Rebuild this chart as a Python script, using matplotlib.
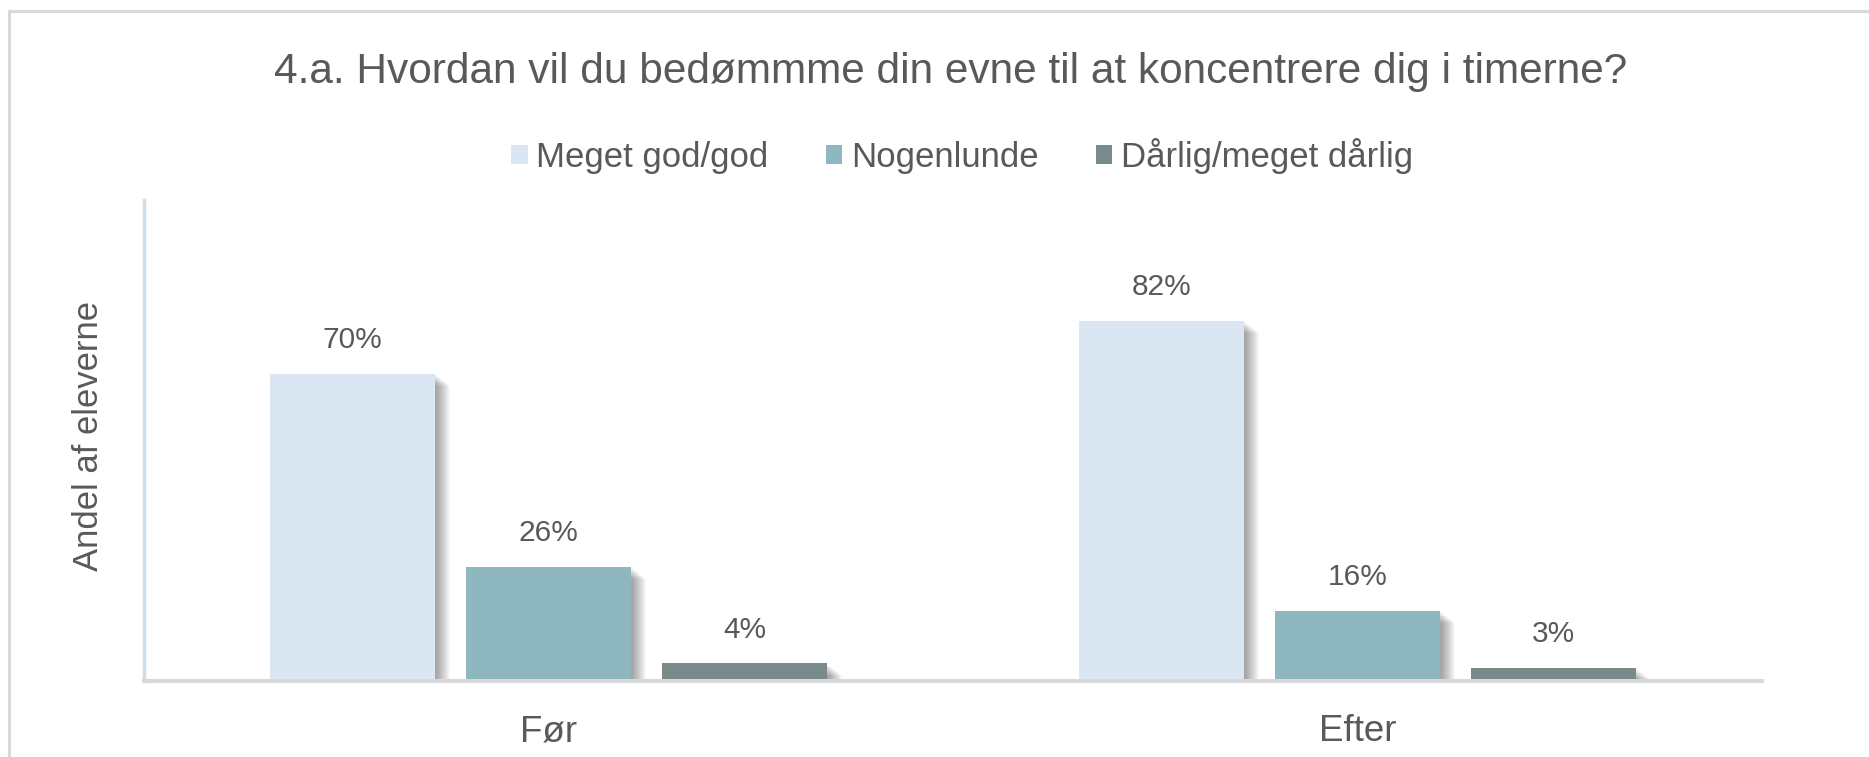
import matplotlib
matplotlib.use("Agg")
import matplotlib.pyplot as plt
import matplotlib.patheffects as pe
from matplotlib.patches import Patch
from matplotlib.lines import Line2D
import numpy as np

categories = ["Før", "Efter"]
series_names = ["Meget god/god", "Nogenlunde", "Dårlig/meget dårlig"]
meget_god = [0.70, 0.82]
nogenlunde = [0.26, 0.16]
daarlig = [0.04, 0.03]
series_values = [meget_god, nogenlunde, daarlig]
colors = ["#DAE7F3", "#8EB7C0", "#798A8B"]

title = "4.a. Hvordan vil du bedømmme din evne til at koncentrere dig i timerne?"
ylabel = "Andel af eleverne"
text_color = "#595959"

plt.rcParams['font.family'] = ['Liberation Sans', 'DejaVu Sans']

W, H = 1869, 757
fig = plt.figure(figsize=(W / 100, H / 100), dpi=100)
fig.patch.set_facecolor("white")

ax = fig.add_axes([144 / W, 1 - 681 / H, (1762 - 144) / W, (681 - 200) / H])

x = np.arange(len(categories))
width = 0.204
offsets = [-0.2425, 0.0, 0.2425]

px = 72 / 100.0
shadow_effects = []
for k in range(2, 16):
    shadow_effects.append(pe.SimplePatchShadow(offset=(k * px, -k * 0.8 * px),
                                               shadow_rgbFace="black", alpha=0.028))
shadow_effects.append(pe.Normal())

for vals, off, col in zip(series_values, offsets, colors):
    bars = ax.bar(x + off, vals, width=width, color=col, linewidth=0, zorder=3)
    for b, v in zip(bars, vals):
        b.set_path_effects(shadow_effects)
        ax.annotate(f"{round(v * 100):d}%", (b.get_x() + b.get_width() / 2, v),
                    xytext=(0, 24), textcoords="offset points",
                    ha="center", va="center", fontsize=21.5, color=text_color)

ax.set_xlim(-0.5, 1.5)
ax.set_ylim(0, 1.095)
ax.set_xticks(x)
ax.set_xticklabels(categories, fontsize=26.5, color=text_color)
ax.tick_params(axis="x", length=0, pad=24)
ax.set_yticks([])
for s in ["top", "right"]:
    ax.spines[s].set_visible(False)
ax.spines["left"].set_color("#D0DEEC")
ax.spines["left"].set_linewidth(2.5)
ax.spines["bottom"].set_color("#D9D9D9")
ax.spines["bottom"].set_linewidth(2.9)
ax.spines["bottom"].set_zorder(4)
ax.set_facecolor("none")

fig.text(89 / W, 1 - 436 / H, ylabel, rotation=90, ha="center", va="center",
         fontsize=24.9, color=text_color)

fig.text(951 / W, 1 - 83 / H, title, ha="center", va="baseline",
         fontsize=30.5, color=text_color)

handles = [Patch(facecolor=c, edgecolor="none") for c in colors]
fig.legend(handles, series_names, loc="center", bbox_to_anchor=(962 / W, 1 - 156 / H),
           ncol=3, frameon=False, fontsize=25, labelcolor=text_color,
           handlelength=0.47, handleheight=0.47, handletextpad=0.25,
           columnspacing=1.65, borderpad=0)

# chart area border (left and top)
fig.add_artist(Line2D([9 / W, 9 / W], [0, 1 - 11 / H], transform=fig.transFigure,
                      color="#D9D9D9", linewidth=2.2))
fig.add_artist(Line2D([9 / W, 1], [1 - 11 / H, 1 - 11 / H], transform=fig.transFigure,
                      color="#D9D9D9", linewidth=2.2))

fig.savefig("out.png", dpi=100, facecolor="white")
